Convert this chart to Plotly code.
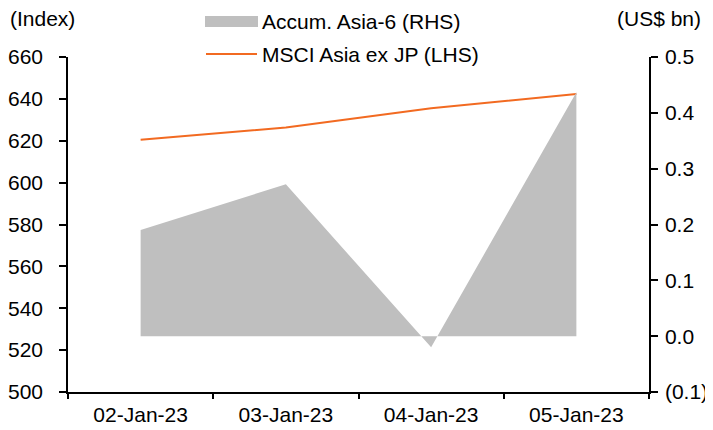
import plotly.graph_objects as go

dates = ["02-Jan-23", "03-Jan-23", "04-Jan-23", "05-Jan-23"]
accum_asia6 = [0.19, 0.272, -0.02, 0.437]      # US$ bn, RHS
msci_asia_ex_jp = [620.5, 626.3, 635.5, 642.3]  # Index, LHS

left_ticks = [500, 520, 540, 560, 580, 600, 620, 640, 660]
right_ticks = [-0.1, 0.0, 0.1, 0.2, 0.3, 0.4, 0.5]
right_tick_text = ["(0.1)", "0.0", "0.1", "0.2", "0.3", "0.4", "0.5"]

GRAY = "#BFBFBF"
ORANGE = "#F26A21"
FONT = "Liberation Sans, Arial, sans-serif"
FS = 21

# page body has an 8px margin: size the figure to fit inside the 713x430 window
OFF = 8
FIG_W, FIG_H = 713 - OFF, 430 - OFF
L, T = 68 - OFF, 57 - OFF
PW, PH = 581, 335

fig = go.Figure()
fig.add_trace(go.Scatter(
    x=dates, y=accum_asia6, yaxis="y2", mode="lines",
    line=dict(width=0, color=GRAY), fill="tozeroy", fillcolor=GRAY,
    name="Accum. Asia-6 (RHS)", showlegend=False, hoverinfo="skip"))
fig.add_trace(go.Scatter(
    x=dates, y=msci_asia_ex_jp, yaxis="y", mode="lines",
    line=dict(width=2, color=ORANGE),
    name="MSCI Asia ex JP (LHS)", showlegend=False))

fig.update_layout(
    width=FIG_W, height=FIG_H,
    margin=dict(l=L, r=FIG_W - L - PW, t=T, b=FIG_H - T - PH),
    paper_bgcolor="white", plot_bgcolor="white",
    font=dict(family=FONT, size=FS, color="black"),
    xaxis=dict(type="category", range=[-0.5, len(dates) - 0.5],
               automargin=False, showgrid=False, zeroline=False,
               showline=True, linecolor="black", linewidth=1.5,
               ticks="outside", tickson="boundaries", ticklen=5,
               tickcolor="black", tickwidth=1.5, ticklabelstandoff=3),
    yaxis=dict(range=[500, 660], tickvals=left_ticks, automargin=False,
               showgrid=False, zeroline=False, showline=True,
               linecolor="black", linewidth=1.5,
               ticks="outside", ticklen=7, tickcolor="black", tickwidth=1.5,
               ticklabelstandoff=12),
    yaxis2=dict(range=[-0.1, 0.5], overlaying="y", side="right",
                automargin=False,
                tickvals=right_ticks, ticktext=right_tick_text, showgrid=False,
                zeroline=False, showline=True, linecolor="black", linewidth=1.5,
                ticks="outside", ticklen=7, tickcolor="black", tickwidth=1.5,
                ticklabelstandoff=3),
)

# Manual legend / unit labels, positioned in page pixels -> paper coords
def px(x):
    return (x - 68) / PW
def py(y):
    return (392 - y) / PH

fig.add_shape(type="rect", xref="paper", yref="paper",
              x0=px(205), x1=px(258), y0=py(27), y1=py(16),
              fillcolor=GRAY, line=dict(width=0))
fig.add_shape(type="line", xref="paper", yref="paper",
              x0=px(206), x1=px(257), y0=py(54), y1=py(54),
              line=dict(color=ORANGE, width=2))
fig.add_annotation(text="Accum. Asia-6 (RHS)", xref="paper", yref="paper",
                   x=px(260), y=py(21), xanchor="left", yanchor="middle",
                   showarrow=False, font=dict(size=FS))
fig.add_annotation(text="MSCI Asia ex JP (LHS)", xref="paper", yref="paper",
                   x=px(260), y=py(55), xanchor="left", yanchor="middle",
                   showarrow=False, font=dict(size=FS))
fig.add_annotation(text="(Index)", xref="paper", yref="paper",
                   x=px(8), y=py(19), xanchor="left", yanchor="middle",
                   showarrow=False, font=dict(size=FS))
fig.add_annotation(text="(US$ bn)", xref="paper", yref="paper",
                   x=px(703), y=py(19), xanchor="right", yanchor="middle",
                   showarrow=False, font=dict(size=FS))

fig.write_html("out.html")
